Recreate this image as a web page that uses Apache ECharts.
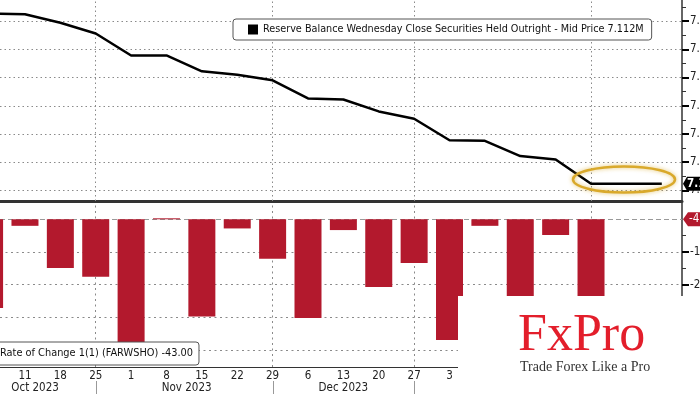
<!DOCTYPE html>
<html><head><meta charset="utf-8">
<script src="https://cdn.jsdelivr.net/npm/echarts@6/dist/echarts.min.js"></script>
<style>html,body{margin:0;padding:0;background:#fff}#c{width:700px;height:394px}</style>
</head><body><div id="c"></div>
<script>
const dates = ['2023-10-04','2023-10-11','2023-10-18','2023-10-25','2023-11-01','2023-11-08','2023-11-15','2023-11-22','2023-11-29','2023-12-06','2023-12-13','2023-12-20','2023-12-27','2024-01-03','2024-01-10','2024-01-17','2024-01-24','2024-01-31','2024-02-07','2024-02-14'];
const reserves = [7.413,7.412,7.397,7.378,7.339,7.339,7.311,7.305,7.295,7.263,7.261,7.240,7.227,7.189,7.188,7.161,7.155,7.112,7.112,7.112];
const changes = [-27.1,-2.0,-14.9,-17.6,-39.5,0.3,-29.7,-2.8,-12.1,-30.2,-3.3,-20.7,-13.4,-36.9,-2.0,-27.5,-4.8,-43.0];
const dayTickDates = dates.slice(1);
const separatorDates = ['2023-10-25','2023-11-29','2023-12-27','2024-01-31'];
const monthLabelDates = ['2023-10-13','2023-11-12','2023-12-13'];
const monthLabelNames = ['Oct 2023','Nov 2023','Dec 2023'];
const reserveTicks = [7.1,7.15,7.2,7.25,7.3,7.35,7.4];
const reserveMinorTicks = [7.125,7.175,7.225,7.275,7.325,7.375,7.425];
const changeTicks = [-40,-30,-20,-10];
const changeMinorTicks = [-45,-35,-25,-15,-5];
const reserveName = 'Reserve Balance Wednesday Close Securities Held Outright - Mid Price 7.112M';
const changeName = 'Rate of Change 1(1) (FARWSHO) -43.00';
const lastReserveLabel = '7.112';
const lastChangeLabel = '-43.00';

// x axis works in days counted from a base date
const DAY = 86400000;
const BASE = '2023-10-11';
function ts(s){const p=s.split('-').map(Number);return Date.UTC(p[0],p[1]-1,p[2]);}
function dayNum(s){return Math.round((ts(s)-ts(BASE))/DAY);}
function dayLabel(v){const d=new Date(ts(BASE)+Math.round(v)*DAY);return String(d.getUTCDate());}
const xMin = -4.94, xMax = 130.0;
const sepX = separatorDates.map(dayNum);
const dayX = dayTickDates.map(dayNum);
const monthX = monthLabelDates.map(dayNum);

const FONT = '"DejaVu Sans Condensed", "DejaVu Sans", sans-serif';
const RED = '#b3192d';
const dotted = {color:'#8a8a8a', type:[1.5,3], width:1};
const dottedLow = {color:'#8a8a8a', type:[2,3.5], width:1};

const chart = echarts.init(document.getElementById('c'));
const option = {
  animation:false,
  backgroundColor:'#fff',
  textStyle:{fontFamily:FONT},
  grid:[{left:0,right:18,top:0,height:201,outerBoundsMode:'none',containLabel:false},
        {left:0,right:18,top:203,bottom:27,outerBoundsMode:'none',containLabel:false}],
  xAxis:[
    {gridIndex:0,type:'value',min:xMin,max:xMax,position:'bottom',
     axisLine:{show:true,onZero:false,lineStyle:{color:'#333',width:3}},
     axisTick:{show:false},axisLabel:{show:false},splitLine:{show:false}},
    {gridIndex:1,type:'value',min:xMin,max:xMax,position:'bottom',
     axisLine:{show:true,onZero:false,lineStyle:{color:'#333',width:1}},
     axisTick:{show:false},
     axisLabel:{show:true,customValues:dayX,formatter:v=>dayLabel(v),color:'#222',fontSize:11.5,margin:3,fontFamily:FONT},
     splitLine:{show:false}},
    {gridIndex:1,type:'value',min:xMin,max:xMax,position:'bottom',offset:13,
     axisLine:{show:false,onZero:false},axisTick:{show:false},splitLine:{show:false},
     axisLabel:{show:true,customValues:monthX,margin:2,color:'#222',fontSize:11.5,fontFamily:FONT,
       formatter:v=>{let best=0;monthX.forEach((t,i)=>{if(Math.abs(t-v)<Math.abs(monthX[best]-v))best=i;});return monthLabelNames[best];}}}
  ],
  yAxis:[
    {gridIndex:0,type:'value',position:'right',min:7.0814,max:7.4372,
     axisLine:{show:true,onZero:false,lineStyle:{color:'#333',width:1.5}},
     axisTick:{show:true,customValues:reserveTicks,length:7,lineStyle:{color:'#000',width:2}},
     axisLabel:{show:true,customValues:reserveTicks,formatter:v=>v.toFixed(2),color:'#222',fontSize:11.5,margin:8,fontFamily:FONT},
     splitLine:{show:false}},
    {gridIndex:1,type:'value',position:'right',min:-45.17,max:4.98,
     axisLine:{show:true,onZero:false,lineStyle:{color:'#333',width:1.5}},
     axisTick:{show:true,customValues:changeTicks,length:7,lineStyle:{color:'#000',width:2}},
     axisLabel:{show:true,customValues:changeTicks,formatter:v=>v.toFixed(2),color:'#222',fontSize:11.5,margin:8,fontFamily:FONT},
     splitLine:{show:false}},
    {gridIndex:0,type:'value',position:'right',offset:0,min:7.0814,max:7.4372,
     axisLine:{show:false,onZero:false},axisLabel:{show:false},splitLine:{show:false},
     axisTick:{show:true,customValues:reserveMinorTicks,length:4,lineStyle:{color:'#333',width:1}}},
    {gridIndex:1,type:'value',position:'right',offset:0,min:-45.17,max:4.98,
     axisLine:{show:false,onZero:false},axisLabel:{show:false},splitLine:{show:false},
     axisTick:{show:true,customValues:changeMinorTicks,length:4,lineStyle:{color:'#333',width:1}}}
  ],
  legend:[
    {data:[reserveName],left:233,top:19,icon:'rect',itemWidth:10,itemHeight:10,padding:[5,8,5,15],
     backgroundColor:'#fff',borderColor:'#555',borderWidth:1,borderRadius:3,selectedMode:false,
     textStyle:{fontSize:10.75,color:'#111',fontFamily:FONT}},
    {data:[changeName],left:-10,top:342,icon:'rect',itemWidth:0,itemHeight:10,padding:[6,6,6,5],
     backgroundColor:'#fff',borderColor:'#555',borderWidth:1,borderRadius:3,selectedMode:false,
     textStyle:{fontSize:10.9,color:'#111',fontFamily:FONT}}
  ],
  series:[
    {name:'grid0',type:'line',xAxisIndex:0,yAxisIndex:0,data:[],z:1,silent:true,
     markLine:{silent:true,symbol:'none',z:1,label:{show:false},lineStyle:dotted,
       data:sepX.map(x=>({xAxis:x})).concat(reserveTicks.map(y=>({yAxis:y})))}},
    {name:'grid1',type:'line',xAxisIndex:1,yAxisIndex:1,data:[],z:1,silent:true,
     markLine:{silent:true,symbol:'none',z:1,label:{show:false},lineStyle:dottedLow,
       data:sepX.map(x=>({xAxis:x})).concat(changeTicks.map(y=>({yAxis:y})))}},
    {name:changeName,type:'bar',xAxisIndex:1,yAxisIndex:1,barWidth:27,z:2,
     data:changes.map((v,i)=>[dayNum(dates[i]),v]),itemStyle:{color:RED},
     markLine:{silent:true,symbol:'none',z:1,data:[{yAxis:0}],label:{show:false},
       lineStyle:{color:'#999',type:[5,3],width:1}}},
    {name:reserveName,type:'line',xAxisIndex:0,yAxisIndex:0,z:3,showSymbol:false,symbol:'none',
     data:reserves.map((v,i)=>[dayNum(dates[i]),v]),lineStyle:{color:'#000',width:2.5},itemStyle:{color:'#000'}}
  ]
};
chart.setOption(option);

const yLast = chart.convertToPixel({yAxisIndex:0}, reserves[reserves.length-1]);
const yZero = chart.convertToPixel({yAxisIndex:1}, 0);
const xAxisEnd = chart.convertToPixel({xAxisIndex:0}, xMax);
const sepLines = sepX.map(v=>{const x=Math.round(chart.convertToPixel({xAxisIndex:1}, v))+0.5;
  return {type:'line',z:40,shape:{x1:x,y1:381,x2:x,y2:394},style:{stroke:'#999',lineWidth:1}};});
chart.setOption({graphic:sepLines.concat([
  {type:'group',left:240,top:29,z:50,children:[
    {type:'rect',shape:{x:0,y:0,width:6,height:6},style:{fill:'#fff',stroke:'#777',lineWidth:1}},
    {type:'line',shape:{x1:1.5,y1:3,x2:4.5,y2:3},style:{stroke:'#777',lineWidth:1}},
    {type:'line',shape:{x1:3,y1:1.5,x2:3,y2:4.5},style:{stroke:'#777',lineWidth:1}}
  ]},
  {type:'ellipse',z:60,shape:{cx:624,cy:179.5,rx:51,ry:13},
   style:{fill:'none',stroke:'#d9a92b',lineWidth:2.5,shadowBlur:4,shadowColor:'rgba(217,169,43,0.7)'}},
  {type:'polygon',z:70,shape:{points:[[xAxisEnd+1,yLast],[xAxisEnd+5,yLast-7],[xAxisEnd+30,yLast-7],[xAxisEnd+30,yLast+7],[xAxisEnd+5,yLast+7]]},style:{fill:'#000'}},
  {type:'text',z:71,style:{text:lastReserveLabel,x:xAxisEnd+5,y:yLast,font:'bold 11.5px "DejaVu Sans Condensed", "DejaVu Sans", sans-serif',fill:'#fff',verticalAlign:'middle',textVerticalAlign:'middle'}},
  {type:'polygon',z:70,shape:{points:[[xAxisEnd+1,yZero],[xAxisEnd+6,yZero-7],[xAxisEnd+30,yZero-7],[xAxisEnd+30,yZero+7],[xAxisEnd+6,yZero+7]]},style:{fill:RED}},
  {type:'text',z:71,style:{text:lastChangeLabel,x:xAxisEnd+7,y:yZero,font:'11.5px "DejaVu Sans Condensed", "DejaVu Sans", sans-serif',fill:'#fff',verticalAlign:'middle',textVerticalAlign:'middle'}},
  {type:'rect',z:90,shape:{x:458,y:296,width:250,height:100},style:{fill:'#fff'}},
  {type:'text',z:91,style:{text:'FxPro',x:518,y:336,font:'52px "Liberation Serif", serif',fill:'#e31e2b',verticalAlign:'middle',textVerticalAlign:'middle'}},
  {type:'text',z:91,style:{text:'Trade Forex Like a Pro',x:520,y:367,font:'14px "Liberation Serif", serif',fill:'#333',verticalAlign:'middle',textVerticalAlign:'middle'}}
])});
</script></body></html>
